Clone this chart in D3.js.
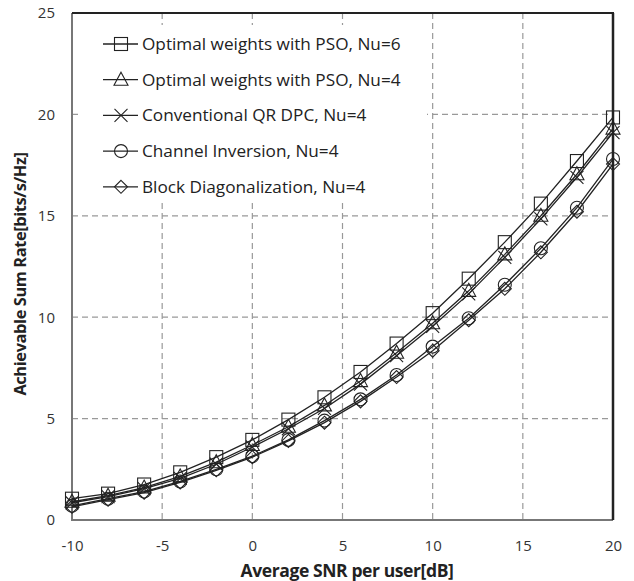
<!DOCTYPE html>
<html>
<head>
<meta charset="utf-8">
<script src="https://cdn.jsdelivr.net/npm/d3@7"></script>
<style>
  body { margin: 0; background: #fff; }
  text { font-family: "Open Sans", sans-serif; }
</style>
</head>
<body>
<script>
var snr = [-10, -8, -6, -4, -2, 0, 2, 4, 6, 8, 10, 12, 14, 16, 18, 20];
var psoNu6 = [1.05, 1.3, 1.75, 2.35, 3.1, 3.95, 4.95, 6.05, 7.3, 8.7, 10.2, 11.9, 13.7, 15.6, 17.7, 19.85];
var psoNu4 = [0.9, 1.2, 1.6, 2.15, 2.85, 3.7, 4.6, 5.65, 6.85, 8.25, 9.7, 11.3, 13.1, 15.0, 17.05, 19.3];
var qrDpc = [0.85, 1.15, 1.55, 2.05, 2.75, 3.6, 4.5, 5.5, 6.7, 8.1, 9.55, 11.15, 12.95, 14.85, 16.9, 19.1];
var chanInv = [0.7, 1.05, 1.4, 1.9, 2.5, 3.15, 3.95, 4.9, 5.95, 7.15, 8.55, 9.95, 11.6, 13.4, 15.4, 17.8];
var blockDiag = [0.65, 1.0, 1.35, 1.85, 2.45, 3.1, 3.9, 4.8, 5.85, 7.05, 8.35, 9.85, 11.4, 13.2, 15.2, 17.55];
var seriesNames = ["Optimal weights with PSO, Nu=6", "Optimal weights with PSO, Nu=4",
  "Conventional QR DPC, Nu=4", "Channel Inversion, Nu=4", "Block Diagonalization, Nu=4"];
var markers = ["square", "triangle", "cross", "circle", "diamond"];
var xTicks = [-10, -5, 0, 5, 10, 15, 20];
var yTicks = [0, 5, 10, 15, 20, 25];

var allSeries = [psoNu6, psoNu4, qrDpc, chanInv, blockDiag];

var width = 634, height = 581;
var plotLeft = 72, plotRight = 613, plotTop = 13, plotBottom = 520;

var svg = d3.select("body").append("svg")
  .attr("width", width)
  .attr("height", height);

var x = d3.scaleLinear().domain([-10, 20]).range([plotLeft, plotRight]);
var y = d3.scaleLinear().domain([0, 25]).range([plotBottom, plotTop]);

// dashed grid
svg.selectAll(".vgrid")
  .data(xTicks.slice(1, -1))
  .enter().append("line")
  .attr("x1", d => x(d)).attr("x2", d => x(d))
  .attr("y1", plotTop).attr("y2", plotBottom)
  .style("stroke", "#999").style("stroke-width", 1.2)
  .style("stroke-dasharray", "6,4");

svg.selectAll(".hgrid")
  .data(yTicks.slice(1, -1))
  .enter().append("line")
  .attr("x1", plotLeft).attr("x2", plotRight)
  .attr("y1", d => y(d)).attr("y2", d => y(d))
  .style("stroke", "#999").style("stroke-width", 1.2)
  .style("stroke-dasharray", "6,4");

// axes
var xAxis = svg.append("g")
  .attr("transform", "translate(0," + plotBottom + ")")
  .call(d3.axisBottom(x).tickValues(xTicks).tickFormat(d => String(d)).tickSize(0).tickPadding(20));
var yAxis = svg.append("g")
  .attr("transform", "translate(" + plotLeft + ",0)")
  .call(d3.axisLeft(y).tickValues(yTicks).tickFormat(d => String(d)).tickSize(0).tickPadding(17));

[xAxis, yAxis].forEach(function(a) {
  a.select(".domain").remove();
  a.selectAll("text").style("font-size", "15px").style("fill", "#333")
    .style("font-family", "'Open Sans', sans-serif");
});

// frame
svg.append("line").attr("x1", plotLeft).attr("x2", plotLeft).attr("y1", plotTop).attr("y2", plotBottom + 1)
  .style("stroke", "#777").style("stroke-width", 2);
svg.append("line").attr("x1", plotLeft).attr("x2", plotRight).attr("y1", plotBottom).attr("y2", plotBottom)
  .style("stroke", "#777").style("stroke-width", 2);
svg.append("line").attr("x1", plotLeft).attr("x2", plotRight + 1).attr("y1", plotTop).attr("y2", plotTop)
  .style("stroke", "#222").style("stroke-width", 2);
svg.append("line").attr("x1", plotRight).attr("x2", plotRight).attr("y1", plotTop).attr("y2", plotBottom)
  .style("stroke", "#222").style("stroke-width", 2.5);

// axis titles
svg.append("text")
  .attr("x", 347).attr("y", 577)
  .attr("text-anchor", "middle")
  .style("font-size", "17.5px").style("font-weight", "bold").style("fill", "#222")
  .style("letter-spacing", "-0.4px")
  .text("Average SNR per user[dB]");

svg.append("text")
  .attr("transform", "translate(26,274) rotate(-90)")
  .attr("text-anchor", "middle")
  .style("font-size", "16.4px").style("font-weight", "bold").style("fill", "#222")
  .style("letter-spacing", "-0.4px")
  .text("Achievable Sum Rate[bits/s/Hz]");

// marker drawing
function drawMarker(g, type, cx, cy) {
  var s = 6.5;
  if (type == "square") {
    g.append("rect").attr("x", cx - s).attr("y", cy - s).attr("width", 2 * s).attr("height", 2 * s);
  } else if (type == "triangle") {
    g.append("path").attr("d", "M" + cx + "," + (cy - s - 1) + "L" + (cx + s + 0.5) + "," + (cy + s - 1) + "L" + (cx - s - 0.5) + "," + (cy + s - 1) + "Z");
  } else if (type == "cross") {
    g.append("path").attr("d", "M" + (cx - s) + "," + (cy - s) + "L" + (cx + s) + "," + (cy + s) + "M" + (cx + s) + "," + (cy - s) + "L" + (cx - s) + "," + (cy + s));
  } else if (type == "circle") {
    g.append("circle").attr("cx", cx).attr("cy", cy).attr("r", s);
  } else if (type == "diamond") {
    g.append("path").attr("d", "M" + cx + "," + (cy - s) + "L" + (cx + s) + "," + cy + "L" + cx + "," + (cy + s) + "L" + (cx - s) + "," + cy + "Z");
  }
}

var line = d3.line()
  .x(d => x(d[0]))
  .y(d => y(d[1]));

allSeries.forEach(function(vals, i) {
  var pts = snr.map((s, j) => [s, vals[j]]);
  svg.append("path")
    .datum(pts)
    .attr("d", line)
    .style("fill", "none").style("stroke", "#222").style("stroke-width", 1.3);
  var mg = svg.append("g").style("fill", "none").style("stroke", "#222").style("stroke-width", 1.1);
  pts.forEach(function(p) {
    drawMarker(mg, markers[i], x(p[0]), y(p[1]));
  });
});

// legend (white box hides the grid behind it)
var legend = svg.append("g");
legend.append("rect").attr("x", 79).attr("y", 25).attr("width", 348).attr("height", 178)
  .style("fill", "#fff");
seriesNames.forEach(function(name, i) {
  var ly = 44 + i * 35.7;
  legend.append("line").attr("x1", 103).attr("x2", 138).attr("y1", ly).attr("y2", ly)
    .style("stroke", "#222").style("stroke-width", 1.3);
  var mg = legend.append("g").style("fill", "none").style("stroke", "#222").style("stroke-width", 1.1);
  drawMarker(mg, markers[i], 121, ly);
  legend.append("text").attr("x", 142).attr("y", ly + 6)
    .style("font-size", "17.2px").style("fill", "#222")
    .text(name);
});
</script>
</body>
</html>
